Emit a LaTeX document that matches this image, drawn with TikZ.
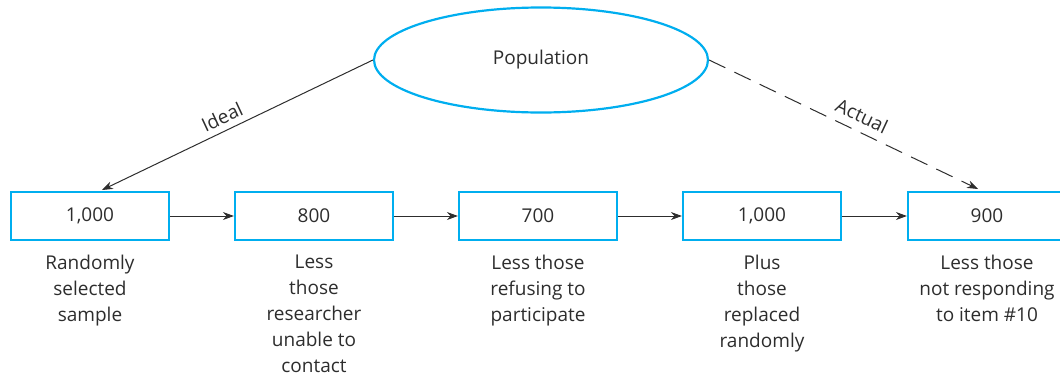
\documentclass[tikz,border=0pt]{standalone}
\usepackage{fontspec}
\setmainfont{Open Sans}
\usetikzlibrary{shapes.geometric,arrows.meta}
\definecolor{cyanline}{RGB}{0,174,239}
\definecolor{txt}{RGB}{45,45,45}
\tikzset{
  numbox/.style={draw=cyanline, line width=2.2pt, minimum width=158pt, minimum height=48pt, inner sep=0pt, text=txt, font=\fontsize{19}{22}\selectfont},
  desc/.style={anchor=north, inner sep=0pt, align=center, text=txt, font=\fontsize{19}{26}\selectfont},
  flow/.style={draw=txt, line width=1pt, -{Stealth[length=11pt,width=8pt]}},
  lbl/.style={text=txt, font=\fontsize{19}{22}\selectfont, inner sep=0pt}
}
\begin{document}
\begin{tikzpicture}[x=1pt,y=-1pt]
\useasboundingbox (0,0) rectangle (1060,381);
\node[ellipse, draw=cyanline, line width=2.2pt, minimum width=334pt, minimum height=105pt, inner sep=0pt, text=txt, font=\fontsize{19}{22}\selectfont] (pop) at (541,60) {Population};
\node[numbox] (b1) at (90,216) {1,000};
\node[numbox] (b2) at (314,216) {800};
\node[numbox] (b3) at (538,216) {700};
\node[numbox] (b4) at (762,216) {1,000};
\node[numbox] (b5) at (987,216) {900};
\node[desc] (d1) at (90,255) {Randomly\\selected\\sample};
\node[desc] (d2) at (314,255) {Less\\those\\researcher\\unable to\\contact};
\node[desc] (d3) at (538,255) {Less those\\refusing to\\participate};
\node[desc] (d4) at (762,255) {Plus\\those\\replaced\\randomly};
\node[desc] (d5) at (987,255) {Less those\\not responding\\to item \#10};
\coordinate (t1) at (102,190);
\coordinate (t5) at (978,189);
\draw[flow] (pop.west) -- (t1);
\draw[flow, dash pattern=on 18pt off 10pt] (pop.east) -- (t5);
\draw[flow] (b1.east) -- (b2.west);
\draw[flow] (b2.east) -- (b3.west);
\draw[flow] (b3.east) -- (b4.west);
\draw[flow] (b4.east) -- (b5.west);
\node[lbl, rotate=25] (li) at (222,117) {Ideal};
\node[lbl, rotate=-25] (la) at (862,116) {Actual};
\end{tikzpicture}
\end{document}
